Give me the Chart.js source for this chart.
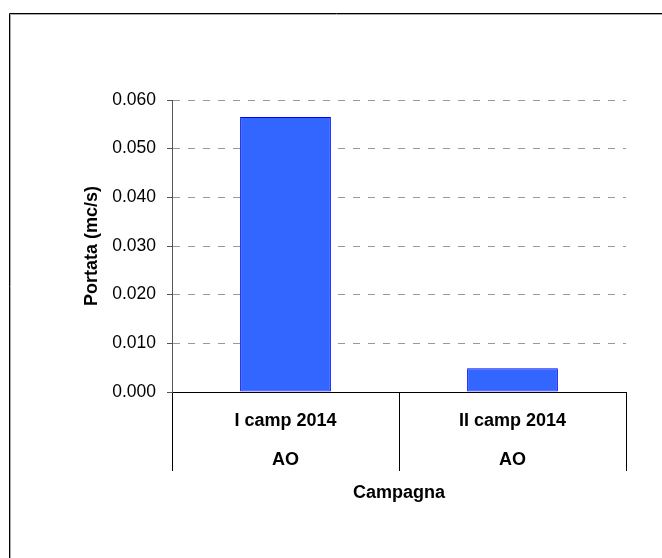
<!DOCTYPE html>
<html>
<head>
<meta charset="utf-8">
<title>Portata per campagna</title>
<style>
  html, body { margin: 0; padding: 0; background: #fff; }
  #wrap { width: 662px; height: 558px; }
</style>
</head>
<body>
<div id="wrap"><canvas id="myChart"></canvas></div>

<script src="https://cdn.jsdelivr.net/npm/chart.js@4/dist/chart.umd.min.js"></script>
<script>
// dati
const campagne = ['I camp 2014', 'II camp 2014'];
const stazioni = ['AO', 'AO'];
const portata = [0.0565, 0.0049];   // mc/s

const yMin = 0, yMax = 0.06, yStep = 0.01;

const FONT = '"Liberation Sans", Arial, sans-serif';

// bordo esterno stile Excel
const frame = {
  id: 'frame',
  afterDraw(chart) {
    const c = chart.ctx;
    c.save();
    c.lineWidth = 1;
    c.strokeStyle = '#000';
    c.beginPath();
    c.moveTo(9.5, 600); c.lineTo(9.5, 13.5); c.lineTo(700, 13.5);
    c.stroke();
    c.strokeStyle = '#aaa';
    c.beginPath();
    c.moveTo(10.5, 600); c.lineTo(10.5, 14.5); c.lineTo(700, 14.5);
    c.stroke();
    c.restore();
  }
};

const ctx = document.getElementById('myChart').getContext('2d');
const chart = new Chart(ctx, {
  type: 'bar',
  data: {
    labels: campagne.map((c, i) => [c, stazioni[i]]),
    datasets: [{
      label: 'Portata',
      data: portata,
      backgroundColor: '#3366ff',
      borderColor: '#0000ff',
      borderWidth: 1,
      borderSkipped: false,
      categoryPercentage: 1,
      barPercentage: 0.4
    }]
  },
  options: {
    responsive: true,
    maintainAspectRatio: false,
    animation: false,
    layout: { padding: { left: 0, right: 36, top: 100, bottom: 0 } },
    plugins: {
      legend: { display: false },
      tooltip: { enabled: false }
    },
    scales: {
      x: {
        offset: true,
        grid: {
          offset: true,
          drawOnChartArea: false,
          drawTicks: true,
          tickLength: 79,
          color: '#000',
          tickColor: ctx => ctx.index === 2 ? '#777' : '#000'
        },
        border: { display: true, color: '#000', width: 1 },
        ticks: {
          color: '#000',
          padding: -70,
          maxRotation: 0,
          font: { family: FONT, size: 18, weight: 'bold', lineHeight: 2.2 }
        },
        title: {
          display: true,
          text: 'Campagna',
          color: '#000',
          font: { family: FONT, size: 18, weight: 'bold' },
          padding: { top: 0, bottom: 54 }
        },
        afterFit(scale) { scale.height = 166; }
      },
      y: {
        min: yMin,
        max: yMax,
        grid: {
          color: '#999',
          tickColor: '#555',
          tickLength: 5
        },
        border: { display: true, color: '#555', width: 1, dash: [7, 8] },
        ticks: {
          stepSize: yStep,
          color: '#000',
          padding: 11,
          font: { family: FONT, size: 17.5 },
          callback: v => Number(v).toFixed(3)
        },
        title: {
          display: true,
          text: 'Portata (mc/s)',
          color: '#000',
          font: { family: FONT, size: 18, weight: 'bold' },
          padding: { top: 81, bottom: 0 }
        },
        afterFit(scale) { scale.width = 172; }
      }
    }
  },
  plugins: [frame]
});
</script>
</body>
</html>
